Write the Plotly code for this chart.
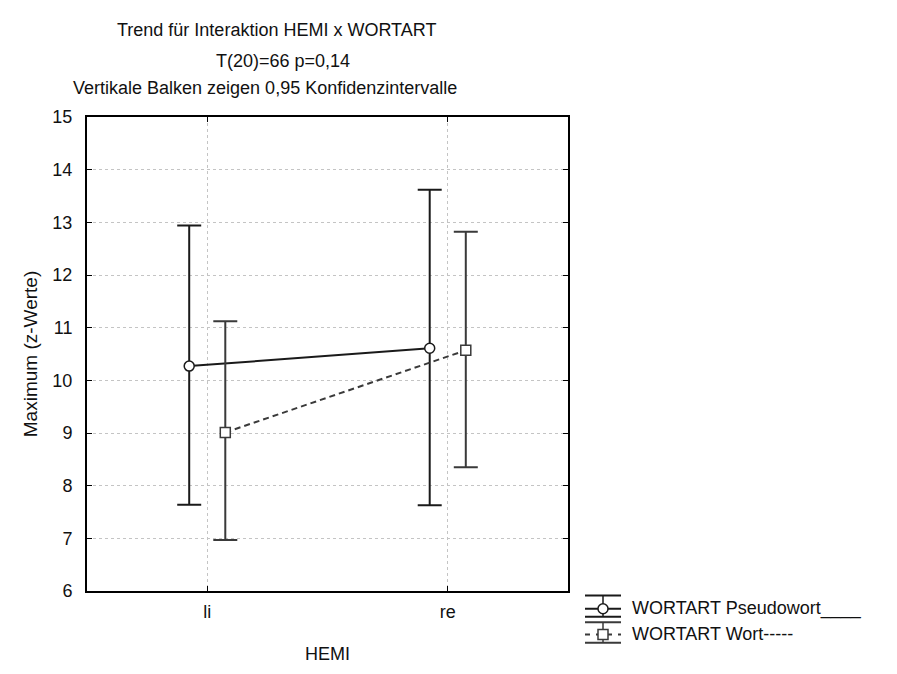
import plotly.graph_objects as go

# Group means and 0.95 confidence limits for HEMI x WORTART
hemi = ["li", "re"]
pseudo_mean = [10.27, 10.61]
pseudo_upper = [12.94, 13.62]
pseudo_lower = [7.64, 7.63]
wort_mean = [9.01, 10.57]
wort_upper = [11.12, 12.82]
wort_lower = [6.97, 8.35]

series_names = ["WORTART Pseudowort____", "WORTART Wort-----"]
title_lines = [
    "Trend für Interaktion HEMI x WORTART",
    "T(20)=66 p=0,14",
    "Vertikale Balken zeigen 0,95 Konfidenzintervalle",
]

W, H = 897, 674
L, R, T, B = 87, 568, 117, 591.5
FONT = "Liberation Sans, Arial, sans-serif"
INK = "#111111"
OFF = 0.075  # horizontal dodge between the two groups


def px(x):
    return (x - L) / (R - L)


def py(y):
    return (B - y) / (B - T)


pos = list(range(len(hemi)))

fig = go.Figure()


def add_series(mean, upper, lower, dx, symbol, dash, color, name):
    fig.add_trace(go.Scatter(
        x=[p + dx for p in pos],
        y=mean,
        mode="lines+markers",
        name=name,
        line=dict(color=color, width=2, dash=dash),
        marker=dict(symbol=symbol, size=10, color="white",
                    line=dict(color=color, width=1.5)),
        error_y=dict(type="data", symmetric=False,
                     array=[u - m for u, m in zip(upper, mean)],
                     arrayminus=[m - l for m, l in zip(mean, lower)],
                     color=color, thickness=2, width=12),
        showlegend=False,
    ))


add_series(pseudo_mean, pseudo_upper, pseudo_lower, -OFF, "circle", "solid",
           "#1a1a1a", series_names[0])
add_series(wort_mean, wort_upper, wort_lower, OFF, "square", "6px,4px",
           "#3a3a3a", series_names[1])

axis_common = dict(
    showline=True, linecolor="black", linewidth=2, mirror="ticks",
    ticks="inside", ticklen=5, tickcolor="black", tickwidth=1,
    showgrid=True, gridcolor="#c4c4c4", gridwidth=1, griddash="3px,3px",
    zeroline=False,
    tickfont=dict(family=FONT, size=18, color=INK),
)

fig.update_xaxes(
    range=[-0.5, 1.5], tickmode="array", tickvals=pos, ticktext=hemi,
    title=dict(text="HEMI", font=dict(family=FONT, size=18, color=INK), standoff=27),
    ticklabelstandoff=3,
    **axis_common,
)
fig.update_yaxes(
    range=[6, 15], tickmode="linear", tick0=6, dtick=1,
    title=dict(text="Maximum (z-Werte)", font=dict(family=FONT, size=19, color=INK), standoff=10),
    ticklabelstandoff=9,
    **axis_common,
)

# Three-line heading
title_pos = [(276, 30), (283, 61), (265, 88)]
annotations = []
for text, (cx, cy) in zip(title_lines, title_pos):
    annotations.append(dict(
        text=text, xref="paper", yref="paper", x=px(cx), y=py(cy),
        xanchor="center", yanchor="middle", showarrow=False,
        font=dict(family=FONT, size=18, color=INK),
    ))

# Legend drawn at the lower right, with error-bar style keys
shapes = []
key_x0, key_x1, key_cx = 585, 621, 603
rows = [
    dict(top=596, mid=609.3, bot=617.3, kind="circle", dash="solid", color="#1a1a1a"),
    dict(top=622.7, mid=635, bot=643.3, kind="rect", dash="5px,6px", color="#3a3a3a"),
]
for row, name in zip(rows, series_names):
    for yy in (row["top"], row["bot"]):
        shapes.append(dict(type="line", xref="paper", yref="paper",
                           x0=px(key_x0), x1=px(key_x1), y0=py(yy), y1=py(yy),
                           line=dict(color=row["color"], width=2)))
    shapes.append(dict(type="line", xref="paper", yref="paper",
                       x0=px(key_cx), x1=px(key_cx), y0=py(row["top"]), y1=py(row["bot"]),
                       line=dict(color=row["color"], width=1.5)))
    shapes.append(dict(type="line", xref="paper", yref="paper",
                       x0=px(key_x0), x1=px(key_x1), y0=py(row["mid"]), y1=py(row["mid"]),
                       line=dict(color=row["color"], width=2, dash=row["dash"])))
    shapes.append(dict(type=row["kind"], xref="paper", yref="paper",
                       x0=px(key_cx - 5), x1=px(key_cx + 5),
                       y0=py(row["mid"] + 5), y1=py(row["mid"] - 5),
                       fillcolor="white", line=dict(color=row["color"], width=1.5)))
    annotations.append(dict(
        text=name, xref="paper", yref="paper", x=px(630), y=py(row["mid"]),
        xanchor="left", yanchor="middle", showarrow=False,
        font=dict(family=FONT, size=18, color=INK),
    ))

fig.update_layout(
    width=W, height=H,
    margin=dict(l=L, r=W - R, t=T, b=H - B, pad=0),
    paper_bgcolor="white", plot_bgcolor="white",
    annotations=annotations, shapes=shapes,
    showlegend=False,
)

fig.write_html("out.html")
